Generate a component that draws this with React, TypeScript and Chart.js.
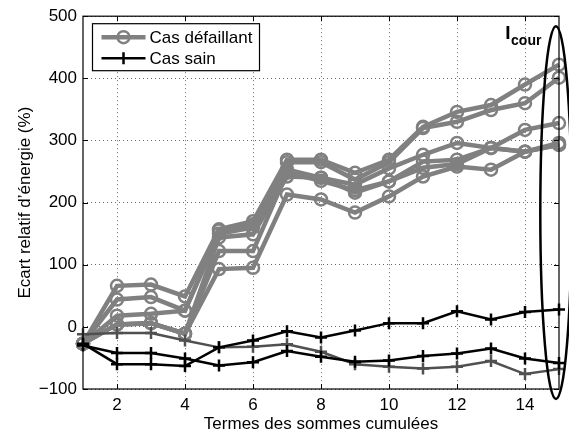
import React, { useEffect, useRef } from 'react';
import { Chart, registerables } from 'chart.js';

Chart.register(...registerables);

// ---- data ----
const termes = [1, 2, 3, 4, 5, 6, 7, 8, 9, 10, 11, 12, 13, 14, 15];
const xTickValues = [2, 4, 6, 8, 10, 12, 14];
const yTickValues = [-100, 0, 100, 200, 300, 400, 500];

const defaillant1 = [-27, 66, 68, 49, 157, 170, 269, 269, 248, 269, 322, 346, 357, 390, 422];
const defaillant2 = [-27, 44, 48, 26, 155, 165, 265, 265, 237, 265, 320, 330, 349, 360, 401];
const defaillant3 = [-27, 18, 21, 26, 150, 160, 253, 240, 229, 255, 277, 296, 288, 317, 328];
const defaillant4 = [-27, 4, 6, -11, 144, 149, 242, 240, 216, 234, 266, 269, 288, 282, 296];
const defaillant5 = [-27, 4, 6, -11, 122, 122, 248, 235, 220, 234, 256, 262, 288, 282, 293];
const defaillant6 = [-27, 4, 6, -11, 93, 95, 213, 205, 184, 210, 242, 258, 253, 282, 293];

const sain1 = [-27, -60, -60, -63, -33, -22, -7, -17, -6, 6, 6, 25, 12, 24, 28];
const sain2 = [-30, -42, -42, -51, -62, -57, -39, -48, -56, -54, -47, -43, -35, -51, -58];
const sain3 = [-12, -10, -10, -22, -33, -32, -28, -40, -60, -64, -67, -64, -55, -76, -68];

const legendLabels = ['Cas défaillant', 'Cas sain'];
const xTitle = 'Termes des sommes cumulées';
const yTitle = "Ecart relatif d’énergie (%)";
const annotationMain = 'I';
const annotationSub = 'cour';
// ellipse around the last term (data units)
const ellipseCenter = { x: 14.91, y: 184 };
const ellipseRadii = { x: 0.46, y: 300 };
const annotationPos = { x: 13.42, y: 463 };

const FONT = "'Liberation Sans', Arial, Helvetica, sans-serif";
const GRAY = '#808080';
const DARK = '#505050';

const toPoints = (arr: number[]) => termes.map((t, i) => ({ x: t, y: arr[i] }));

const grayDs = (arr: number[]) => ({
  data: toPoints(arr),
  borderColor: GRAY,
  borderWidth: 4.5,
  pointStyle: 'circle',
  pointRadius: 6,
  pointBorderWidth: 2.5,
  pointBorderColor: GRAY,
  pointBackgroundColor: 'rgba(0,0,0,0)',
  tension: 0,
  clip: false as any,
});

const crossDs = (arr: number[], color: string) => ({
  data: toPoints(arr),
  borderColor: color,
  borderWidth: 2.5,
  pointStyle: 'cross',
  pointRadius: 6,
  pointBorderWidth: 2.5,
  pointBorderColor: color,
  pointBackgroundColor: color,
  tension: 0,
  clip: false as any,
});

const decorPlugin = {
  id: 'decor',
  afterDraw(chart: any) {
    const { ctx, chartArea: a, scales } = chart;
    const xs = scales.x;
    const ys = scales.y;
    ctx.save();
    // frame
    ctx.strokeStyle = '#000';
    ctx.lineWidth = 1.2;
    ctx.strokeRect(a.left, a.top, a.right - a.left, a.bottom - a.top);
    // inward ticks
    ctx.lineWidth = 1;
    const tl = 5;
    xTickValues.forEach((v) => {
      const px = Math.round(xs.getPixelForValue(v)) + 0.5;
      ctx.beginPath();
      ctx.moveTo(px, a.bottom);
      ctx.lineTo(px, a.bottom - tl);
      ctx.moveTo(px, a.top);
      ctx.lineTo(px, a.top + tl);
      ctx.stroke();
    });
    yTickValues.forEach((v) => {
      const py = Math.round(ys.getPixelForValue(v)) + 0.5;
      ctx.beginPath();
      ctx.moveTo(a.left, py);
      ctx.lineTo(a.left + tl, py);
      ctx.moveTo(a.right, py);
      ctx.lineTo(a.right - tl, py);
      ctx.stroke();
    });

    // ellipse
    const cx = xs.getPixelForValue(ellipseCenter.x);
    const cy = ys.getPixelForValue(ellipseCenter.y);
    const rx = Math.abs(xs.getPixelForValue(ellipseCenter.x + ellipseRadii.x) - cx);
    const ry = Math.abs(ys.getPixelForValue(ellipseCenter.y + ellipseRadii.y) - cy);
    ctx.beginPath();
    ctx.ellipse(cx, cy, rx, ry, 0, 0, Math.PI * 2);
    ctx.lineWidth = 2.5;
    ctx.strokeStyle = '#000';
    ctx.stroke();

    // I_cour annotation
    ctx.fillStyle = '#000';
    ctx.textAlign = 'left';
    ctx.textBaseline = 'alphabetic';
    const ax = xs.getPixelForValue(annotationPos.x);
    const ay = ys.getPixelForValue(annotationPos.y);
    ctx.font = `bold 19px ${FONT}`;
    ctx.fillText(annotationMain, ax, ay);
    const w = ctx.measureText(annotationMain).width;
    ctx.font = `bold 14px ${FONT}`;
    ctx.fillText(annotationSub, ax + w + 0.5, ay + 6);

    // axis titles
    ctx.font = `17px ${FONT}`;
    ctx.textAlign = 'center';
    ctx.fillText(xTitle, (a.left + a.right) / 2, 429);
    ctx.save();
    ctx.translate(30, (a.top + a.bottom) / 2);
    ctx.rotate(-Math.PI / 2);
    ctx.fillText(yTitle, 0, 0);
    ctx.restore();

    // legend
    const lx = a.left + 9.5;
    const ly = a.top + 7.5;
    const lw = 167;
    const lh = 47;
    ctx.fillStyle = '#fff';
    ctx.fillRect(lx, ly, lw, lh);
    ctx.strokeStyle = '#000';
    ctx.lineWidth = 1.2;
    ctx.strokeRect(lx, ly, lw, lh);
    const sx0 = lx + 9;
    const sx1 = lx + 53;
    const smid = (sx0 + sx1) / 2;
    const r1 = ly + 13.5;
    const r2 = ly + 34.5;
    // gray entry
    ctx.strokeStyle = GRAY;
    ctx.lineWidth = 4.5;
    ctx.beginPath();
    ctx.moveTo(sx0, r1);
    ctx.lineTo(sx1, r1);
    ctx.stroke();
    ctx.lineWidth = 2.5;
    ctx.beginPath();
    ctx.arc(smid, r1, 6, 0, Math.PI * 2);
    ctx.stroke();
    // black entry
    ctx.strokeStyle = '#000';
    ctx.lineWidth = 2.5;
    ctx.beginPath();
    ctx.moveTo(sx0, r2);
    ctx.lineTo(sx1, r2);
    ctx.moveTo(smid, r2 - 6);
    ctx.lineTo(smid, r2 + 6);
    ctx.stroke();
    ctx.fillStyle = '#000';
    ctx.font = `17px ${FONT}`;
    ctx.textAlign = 'left';
    ctx.textBaseline = 'middle';
    ctx.fillText(legendLabels[0], sx1 + 4, r1 + 1);
    ctx.fillText(legendLabels[1], sx1 + 4, r2 + 1);
    ctx.restore();
  },
};

export default function App() {
  const ref = useRef<HTMLCanvasElement>(null);
  useEffect(() => {
    if (!ref.current) return;
    const chart = new Chart(ref.current, {
      type: 'line',
      data: {
        datasets: [
          crossDs(sain1, '#000'),
          crossDs(sain2, '#000'),
          crossDs(sain3, DARK),
          grayDs(defaillant1),
          grayDs(defaillant2),
          grayDs(defaillant3),
          grayDs(defaillant4),
          grayDs(defaillant5),
          grayDs(defaillant6),
        ] as any,
      },
      options: {
        animation: false,
        responsive: false,
        devicePixelRatio: 1,
        layout: { padding: { top: 14, right: 10, left: 0, bottom: 0 } },
        plugins: {
          legend: { display: false },
          tooltip: { enabled: false },
          title: { display: false },
        },
        scales: {
          x: {
            type: 'linear',
            min: 1,
            max: 15,
            afterBuildTicks: (s: any) => {
              s.ticks = xTickValues.map((v) => ({ value: v }));
            },
            afterFit: (s: any) => {
              s.height = 45;
            },
            ticks: {
              color: '#000',
              font: { family: FONT, size: 17 },
              padding: 6,
              maxRotation: 0,
              autoSkip: false,
            },
            grid: {
              color: 'rgba(0,0,0,0.6)',
              lineWidth: 1,
              drawTicks: false,
            },
            border: { display: false, dash: [1, 3] },
          },
          y: {
            type: 'linear',
            min: -100,
            max: 500,
            afterBuildTicks: (s: any) => {
              s.ticks = yTickValues.map((v) => ({ value: v }));
            },
            afterFit: (s: any) => {
              s.width = 83;
            },
            ticks: {
              color: '#000',
              font: { family: FONT, size: 17 },
              padding: 6,
              callback: (v: any) => (Number(v) < 0 ? '\u2212' + Math.abs(Number(v)) : String(v)),
            },
            grid: {
              color: 'rgba(0,0,0,0.6)',
              lineWidth: 1,
              drawTicks: false,
            },
            border: { display: false, dash: [1, 3] },
          },
        },
      },
      plugins: [decorPlugin],
    });
    return () => chart.destroy();
  }, []);
  return (
    <div style={{ position: 'fixed', left: 0, top: 0, width: 569, height: 434, background: '#fff' }}>
      <canvas ref={ref} width={569} height={434} style={{ display: 'block', width: 569, height: 434 }} />
    </div>
  );
}
